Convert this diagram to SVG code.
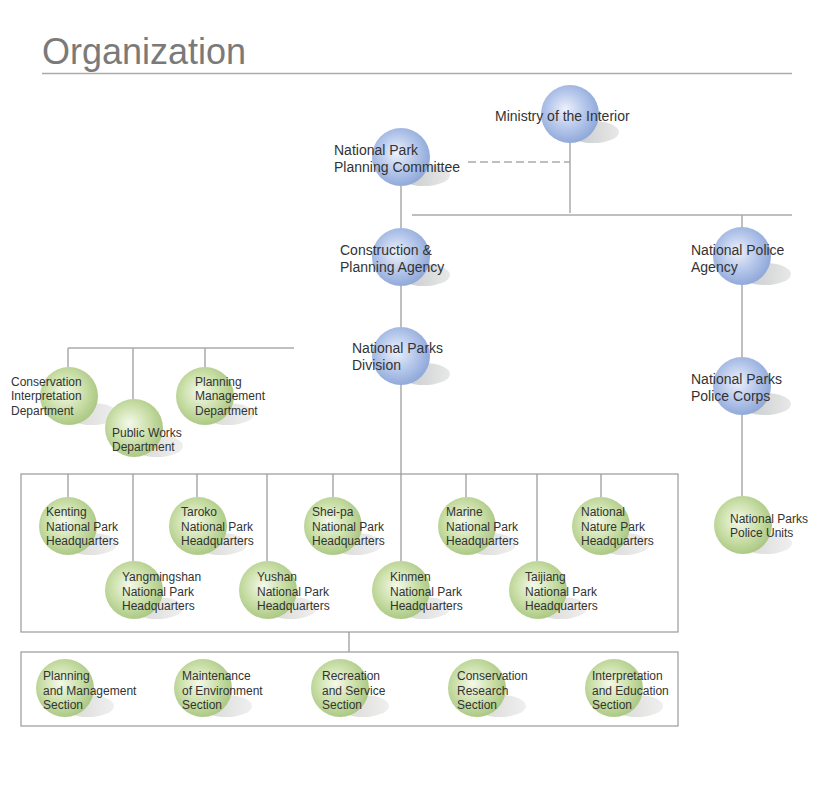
<svg xmlns="http://www.w3.org/2000/svg" width="820" height="800" viewBox="0 0 820 800">
<defs>
<radialGradient id="gb" cx="0.45" cy="0.45" r="0.6" fx="0.42" fy="0.42">
<stop offset="0" stop-color="#eef2fb"/>
<stop offset="0.55" stop-color="#b3c5ea"/>
<stop offset="1" stop-color="#8aa4d6"/>
</radialGradient>
<radialGradient id="gg" cx="0.45" cy="0.45" r="0.6" fx="0.42" fy="0.42">
<stop offset="0" stop-color="#f5f9ea"/>
<stop offset="0.55" stop-color="#cadfa8"/>
<stop offset="1" stop-color="#a6c47e"/>
</radialGradient>
<linearGradient id="gs" x1="0" y1="0" x2="1" y2="0">
<stop offset="0" stop-color="#c4c6c8"/>
<stop offset="1" stop-color="#e8e8e8"/>
</linearGradient>
<linearGradient id="gs2" x1="0" y1="0" x2="1" y2="0">
<stop offset="0" stop-color="#d6d8d4"/>
<stop offset="1" stop-color="#efefef"/>
</linearGradient>
</defs>
<style>
.t{font-family:"Liberation Sans",Arial,sans-serif;fill:#333;font-size:14px}
.s{font-family:"Liberation Sans",Arial,sans-serif;fill:#333;font-size:12px}
.ln{stroke:#aaa;stroke-width:1.5;fill:none}
.bx{stroke:#999;stroke-width:1.2;fill:none}
.cb{fill:url(#gb)}
.cg{fill:url(#gg)}
.sh{fill:url(#gs)}
.sh2{fill:url(#gs2)}
</style>
<rect width="820" height="800" fill="#fff"/>
<text x="42" y="64" font-family="Liberation Sans,Arial,sans-serif" font-size="36" fill="#7a7a7a">Organization</text>
<line x1="42" y1="73.5" x2="792" y2="73.5" stroke="#aaa" stroke-width="1.5"/>

<g id="connectors">
<line class="ln" x1="468" y1="162" x2="570" y2="162" stroke-dasharray="8,4"/>
<line class="ln" x1="570" y1="143" x2="570" y2="213"/>
<line class="ln" x1="412" y1="215" x2="792" y2="215"/>
<line class="ln" x1="742" y1="215" x2="742" y2="228"/>
<line class="ln" x1="401" y1="186" x2="401" y2="228"/>
<line class="ln" x1="401" y1="286" x2="401" y2="327"/>
<line class="ln" x1="401" y1="385" x2="401" y2="561"/>
<line class="ln" x1="742" y1="285" x2="742" y2="357"/>
<line class="ln" x1="742" y1="415" x2="742" y2="496"/>
<line class="ln" x1="68" y1="348" x2="294" y2="348"/>
<line class="ln" x1="68" y1="348" x2="68" y2="367"/>
<line class="ln" x1="133" y1="348" x2="133" y2="400"/>
<line class="ln" x1="205" y1="348" x2="205" y2="367"/>
<line class="ln" x1="68" y1="474" x2="68" y2="497"/>
<line class="ln" x1="133" y1="474" x2="133" y2="561"/>
<line class="ln" x1="197" y1="474" x2="197" y2="497"/>
<line class="ln" x1="267" y1="474" x2="267" y2="561"/>
<line class="ln" x1="333" y1="474" x2="333" y2="497"/>
<line class="ln" x1="466" y1="474" x2="466" y2="497"/>
<line class="ln" x1="537" y1="474" x2="537" y2="561"/>
<line class="ln" x1="601" y1="474" x2="601" y2="497"/>
<line class="ln" x1="349" y1="632" x2="349" y2="652"/>
<rect class="bx" x="21" y="474" width="657" height="158"/>
<rect class="bx" x="21" y="652" width="657" height="74"/>
</g>

<g id="ministry"><ellipse class="sh" cx="593" cy="132" rx="26" ry="11"/><circle class="cb" cx="570" cy="114" r="29"/><text class="t" x="495" y="121">Ministry of the Interior</text></g>
<g id="committee"><ellipse class="sh" cx="424" cy="175" rx="26" ry="11"/><circle class="cb" cx="401" cy="157" r="29"/><text class="t" x="334" y="155">National Park</text><text class="t" x="334" y="172">Planning Committee</text></g>
<g id="cpa"><ellipse class="sh" cx="424" cy="275" rx="26" ry="11"/><circle class="cb" cx="401" cy="257" r="29"/><text class="t" x="340" y="255">Construction &amp;</text><text class="t" x="340" y="272">Planning Agency</text></g>
<g id="npa"><ellipse class="sh" cx="765" cy="274" rx="26" ry="11"/><circle class="cb" cx="742" cy="256" r="29"/><text class="t" x="691" y="255">National Police</text><text class="t" x="691" y="272">Agency</text></g>
<g id="npd"><ellipse class="sh" cx="424" cy="374" rx="26" ry="11"/><circle class="cb" cx="401" cy="356" r="29"/><text class="t" x="352" y="353">National Parks</text><text class="t" x="352" y="370">Division</text></g>
<g id="nppc"><ellipse class="sh" cx="765" cy="404" rx="26" ry="11"/><circle class="cb" cx="742" cy="386" r="29"/><text class="t" x="691" y="384">National Parks</text><text class="t" x="691" y="401">Police Corps</text></g>
<g id="nppu"><ellipse class="sh2" cx="766" cy="543" rx="26" ry="11"/><circle class="cg" cx="743" cy="525" r="29"/><text class="s" x="730" y="523">National Parks</text><text class="s" x="730" y="537">Police Units</text></g>

<g id="cid"><ellipse class="sh2" cx="92" cy="414" rx="26" ry="11"/><circle class="cg" cx="69" cy="396" r="29"/><text class="s" x="11" y="386">Conservation</text><text class="s" x="11" y="400">Interpretation</text><text class="s" x="11" y="415">Department</text></g>
<g id="pwd"><ellipse class="sh2" cx="157" cy="446" rx="26" ry="11"/><circle class="cg" cx="134" cy="428" r="29"/><text class="s" x="112" y="437">Public Works</text><text class="s" x="112" y="451">Department</text></g>
<g id="pmd"><ellipse class="sh2" cx="228" cy="414" rx="26" ry="11"/><circle class="cg" cx="205" cy="396" r="29"/><text class="s" x="195" y="386">Planning</text><text class="s" x="195" y="400">Management</text><text class="s" x="195" y="415">Department</text></g>

<g id="kenting"><ellipse class="sh2" cx="91" cy="544" rx="26" ry="11"/><circle class="cg" cx="68" cy="526" r="29"/><text class="s" x="46" y="516">Kenting</text><text class="s" x="46" y="531">National Park</text><text class="s" x="46" y="545">Headquarters</text></g>
<g id="taroko"><ellipse class="sh2" cx="221" cy="544" rx="26" ry="11"/><circle class="cg" cx="198" cy="526" r="29"/><text class="s" x="181" y="516">Taroko</text><text class="s" x="181" y="531">National Park</text><text class="s" x="181" y="545">Headquarters</text></g>
<g id="sheipa"><ellipse class="sh2" cx="356" cy="544" rx="26" ry="11"/><circle class="cg" cx="333" cy="526" r="29"/><text class="s" x="312" y="516">Shei-pa</text><text class="s" x="312" y="531">National Park</text><text class="s" x="312" y="545">Headquarters</text></g>
<g id="marine"><ellipse class="sh2" cx="490" cy="544" rx="26" ry="11"/><circle class="cg" cx="467" cy="526" r="29"/><text class="s" x="446" y="516">Marine</text><text class="s" x="446" y="531">National Park</text><text class="s" x="446" y="545">Headquarters</text></g>
<g id="nature"><ellipse class="sh2" cx="624" cy="544" rx="26" ry="11"/><circle class="cg" cx="601" cy="526" r="29"/><text class="s" x="581" y="516">National</text><text class="s" x="581" y="531">Nature Park</text><text class="s" x="581" y="545">Headquarters</text></g>
<g id="yangmingshan"><ellipse class="sh2" cx="157" cy="608" rx="26" ry="11"/><circle class="cg" cx="134" cy="590" r="29"/><text class="s" x="122" y="581">Yangmingshan</text><text class="s" x="122" y="596">National Park</text><text class="s" x="122" y="610">Headquarters</text></g>
<g id="yushan"><ellipse class="sh2" cx="291" cy="608" rx="26" ry="11"/><circle class="cg" cx="268" cy="590" r="29"/><text class="s" x="257" y="581">Yushan</text><text class="s" x="257" y="596">National Park</text><text class="s" x="257" y="610">Headquarters</text></g>
<g id="kinmen"><ellipse class="sh2" cx="424" cy="608" rx="26" ry="11"/><circle class="cg" cx="401" cy="590" r="29"/><text class="s" x="390" y="581">Kinmen</text><text class="s" x="390" y="596">National Park</text><text class="s" x="390" y="610">Headquarters</text></g>
<g id="taijiang"><ellipse class="sh2" cx="561" cy="608" rx="26" ry="11"/><circle class="cg" cx="538" cy="590" r="29"/><text class="s" x="525" y="581">Taijiang</text><text class="s" x="525" y="596">National Park</text><text class="s" x="525" y="610">Headquarters</text></g>

<g id="sec-planning"><ellipse class="sh2" cx="88" cy="706" rx="26" ry="11"/><circle class="cg" cx="65" cy="688" r="29"/><text class="s" x="43" y="680">Planning</text><text class="s" x="43" y="695">and Management</text><text class="s" x="43" y="709">Section</text></g>
<g id="sec-maintenance"><ellipse class="sh2" cx="226" cy="706" rx="26" ry="11"/><circle class="cg" cx="203" cy="688" r="29"/><text class="s" x="182" y="680">Maintenance</text><text class="s" x="182" y="695">of Environment</text><text class="s" x="182" y="709">Section</text></g>
<g id="sec-recreation"><ellipse class="sh2" cx="363" cy="706" rx="26" ry="11"/><circle class="cg" cx="340" cy="688" r="29"/><text class="s" x="322" y="680">Recreation</text><text class="s" x="322" y="695">and Service</text><text class="s" x="322" y="709">Section</text></g>
<g id="sec-conservation"><ellipse class="sh2" cx="500" cy="706" rx="26" ry="11"/><circle class="cg" cx="477" cy="688" r="29"/><text class="s" x="457" y="680">Conservation</text><text class="s" x="457" y="695">Research</text><text class="s" x="457" y="709">Section</text></g>
<g id="sec-interpretation"><ellipse class="sh2" cx="637" cy="706" rx="26" ry="11"/><circle class="cg" cx="614" cy="688" r="29"/><text class="s" x="592" y="680">Interpretation</text><text class="s" x="592" y="695">and Education</text><text class="s" x="592" y="709">Section</text></g>
</svg>
